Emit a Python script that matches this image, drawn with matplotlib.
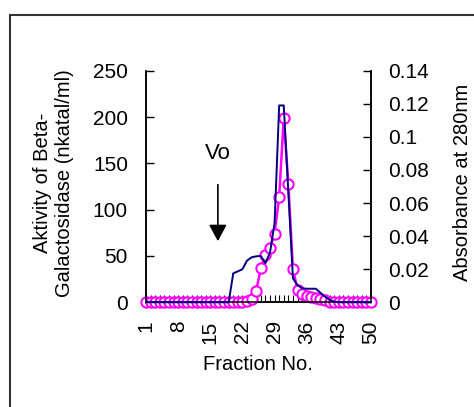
import numpy as np
import matplotlib
matplotlib.use("Agg")
import matplotlib.pyplot as plt
from matplotlib.patches import Rectangle

plt.rcParams["font.family"] = ["Liberation Sans", "DejaVu Sans"]

# fraction numbers
fractions = np.arange(1, 51)

# beta-galactosidase activity (nkatal/ml), left axis - magenta circles
activity = np.zeros(50)
activity[22:40] = [1.1, 3.2, 12.4, 36.7, 51.3, 58.9, 74, 113.4, 199, 127.4,
                   36.2, 13.5, 8.6, 6.5, 5.4, 4.5, 3.8, 2.7]

# absorbance at 280 nm, right axis - navy line
absorbance = np.zeros(50)
absorbance[19:42] = [0.0175, 0.0187, 0.020, 0.0252, 0.0272, 0.0278, 0.028,
                     0.0236, 0.030, 0.0478, 0.119, 0.119, 0.0665, 0.0145,
                     0.0103, 0.0085, 0.0082, 0.0082, 0.0082, 0.0057, 0.0034,
                     0.0015, 0.0004]

xtick_labels = [1, 8, 15, 22, 29, 36, 43, 50]

fig = plt.figure(figsize=(4.74, 4.07), dpi=100)
ax = fig.add_axes([146 / 474, 104.7 / 407, 225 / 474, 231.6 / 407])
ax2 = ax.twinx()

ax.plot(fractions, activity, color="#FF00FF", lw=1.8, marker="o", ms=7.4,
        mfc="white", mec="#FF00FF", mew=1.5, clip_on=False, zorder=3)
ax2.plot(fractions, absorbance, color="#000080", lw=1.4, clip_on=False, zorder=3)

ax.set_xlim(1, 50)
ax.set_ylim(0, 250)
ax2.set_ylim(0, 0.14)

ax.set_yticks([0, 50, 100, 150, 200, 250])
ax2.set_yticks([0, 0.02, 0.04, 0.06, 0.08, 0.1, 0.12, 0.14])
ax2.set_yticklabels(["0", "0.02", "0.04", "0.06", "0.08", "0.1", "0.12", "0.14"])

ax.set_xticks(fractions)
ax.set_xticklabels([str(f) if f in xtick_labels else "" for f in fractions],
                   rotation=90, va="top")

for a in (ax, ax2):
    a.spines["top"].set_visible(False)
    for s in a.spines.values():
        s.set_linewidth(1.1)
ax.tick_params(axis="y", direction="in", length=6, width=1, labelsize=15, pad=13)
ax2.tick_params(axis="y", direction="in", length=6, width=1, labelsize=15, pad=12)
ax.tick_params(axis="x", direction="in", length=5, width=0.8, labelsize=15, pad=13)

# void volume marker
ax.annotate("", xy=(16.65, 63), xytext=(16.65, 130),
            arrowprops=dict(arrowstyle="-|>,head_length=0.5,head_width=0.27",
                            mutation_scale=20, color="black", lw=1.2))
ax.text(16.6, 161, "Vo", fontsize=16, ha="center", va="center")

fig.text(54 / 474, 1 - 183 / 407, "Aktivity of Beta-\nGalactosidase (nkatal/ml)",
         rotation=90, ha="center", va="center", multialignment="center", fontsize=14.5)
fig.text(462 / 474, 1 - 182 / 407, "Absorbance at 280nm", rotation=90,
         ha="center", va="center", fontsize=14.5)
fig.text(258 / 474, 1 - 364 / 407, "Fraction No.", ha="center", va="center",
         fontsize=14.5)

# outer chart frame (cut off at right and bottom)
fig.add_artist(Rectangle((10 / 474, -0.1), 2, 1 - 15 / 407 + 0.1, fill=False,
                         lw=1.5, edgecolor="#333333", transform=fig.transFigure))

fig.savefig("out.png", dpi=100)
